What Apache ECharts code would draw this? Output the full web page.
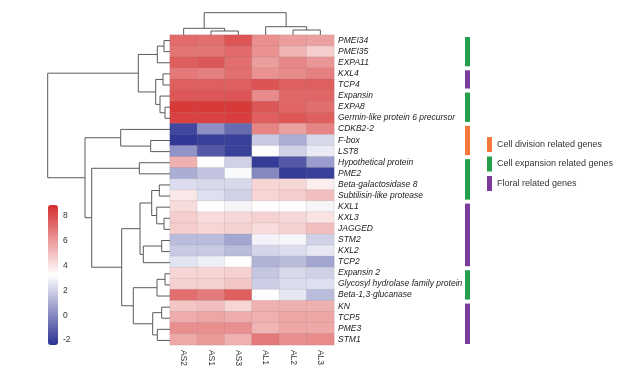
<!DOCTYPE html>
<html>
<head>
<meta charset="utf-8">
<script src="https://cdn.jsdelivr.net/npm/echarts@6/dist/echarts.min.js"></script>
<style>
  html, body { margin: 0; padding: 0; background: #fff; }
  #chart { width: 633px; height: 369px; }
</style>
</head>
<body>
<div id="chart"></div>
<script>
const samples = ['AS2', 'AS1', 'AS3', 'AL1', 'AL2', 'AL3'];

const genes = [
  'PMEI34', 'PMEI35', 'EXPA11', 'KXL4', 'TCP4', 'Expansin', 'EXPA8',
  'Germin-like protein 6 precursor', 'CDKB2-2', 'F-box', 'LST8',
  'Hypothetical protein', 'PME2', 'Beta-galactosidase 8', 'Subtilisin-like protease',
  'KXL1', 'KXL3', 'JAGGED', 'STM2', 'KXL2', 'TCP2', 'Expansin 2',
  'Glycosyl hydrolase family protein', 'Beta-1,3-glucanase', 'KN', 'TCP5', 'PME3', 'STM1'
];

// one row per gene, columns in the order of samples
const expression = [
  [7.3, 7.2, 7.9, 6.3, 5.9, 5.8],
  [7.0, 7.0, 7.3, 6.2, 5.3, 4.6],
  [7.6, 7.8, 7.2, 5.9, 6.5, 6.1],
  [6.9, 6.7, 7.2, 6.2, 6.4, 6.7],
  [7.6, 7.6, 7.6, 7.9, 7.6, 7.6],
  [7.8, 7.8, 7.9, 6.4, 7.4, 7.4],
  [8.6, 8.6, 8.6, 7.8, 7.4, 7.2],
  [8.4, 8.4, 8.5, 7.6, 7.8, 7.6],
  [-1.8, 0.2, -0.8, 6.6, 5.8, 6.6],
  [-2.2, -2.0, -2.0, 1.8, 1.0, 2.2],
  [0.3, -1.3, -2.0, 3.3, 2.0, 2.7],
  [5.4, 3.3, 2.0, -2.1, -1.3, 0.6],
  [1.0, 1.6, 3.1, 0.0, -2.1, -2.0],
  [2.3, 2.2, 2.2, 4.4, 4.3, 3.7],
  [3.9, 2.4, 2.0, 4.4, 4.6, 5.0],
  [4.2, 3.3, 3.0, 3.3, 3.2, 3.0],
  [4.6, 4.2, 4.3, 4.5, 4.3, 4.0],
  [4.6, 4.4, 4.5, 4.2, 4.5, 5.0],
  [1.4, 1.4, 0.8, 2.9, 3.0, 2.0],
  [1.8, 1.8, 1.4, 2.1, 2.3, 2.6],
  [2.5, 2.8, 3.3, 1.2, 1.4, 0.8],
  [4.4, 4.4, 4.5, 1.7, 2.2, 2.0],
  [4.5, 4.5, 4.8, 1.9, 2.3, 2.4],
  [7.2, 6.8, 7.6, 3.3, 2.6, 1.4],
  [4.8, 5.0, 4.4, 5.4, 5.4, 5.4],
  [5.5, 5.7, 5.5, 5.4, 5.7, 5.7],
  [6.3, 6.3, 6.3, 5.3, 5.6, 5.6],
  [5.6, 6.0, 5.4, 6.9, 6.3, 6.4]
];

// linkage: [childA, childB, height]; index >= n means merge (index - n)
const rowLinkage = [
  [0, 1, 6], [28, 2, 12.7], [3, 4, 7], [6, 7, 5], [5, 31, 10], [30, 32, 14.3],
  [29, 33, 31.7], [9, 10, 19.3], [8, 35, 49.3], [11, 12, 30.7], [13, 14, 10.7],
  [16, 17, 6], [15, 39, 13.3], [38, 40, 18.3], [18, 19, 8.3], [42, 20, 26.7],
  [41, 43, 30], [21, 22, 5], [45, 23, 13], [24, 25, 8.3], [26, 27, 12.7],
  [47, 48, 17.3], [46, 49, 36.7], [44, 50, 48.3], [37, 51, 78.3], [36, 52, 85],
  [34, 53, 122.3]
];
const colLinkage = [[1, 2, 4], [0, 6, 6.7], [4, 5, 5], [3, 8, 8.3], [7, 9, 22.3]];

const groupNames = ['Cell division related genes', 'Cell expansion related genes', 'Floral related genes'];
// [group, first row, last row]
const groupSpans = [
  [1, 0, 2], [2, 3, 4], [1, 5, 7], [0, 8, 10], [1, 11, 14], [2, 15, 20], [1, 21, 23], [2, 24, 27]
];
const colorbarTicks = [-2, 0, 2, 4, 6, 8];

const groupColors = ['#f4783a', '#22a04c', '#7b3c9c'];
const FONT = 'Liberation Sans, Arial, sans-serif';

function buildTree(linkage, n) {
  const pos = [], h = [];
  for (let i = 0; i < n; i++) { pos[i] = i; h[i] = 0; }
  return linkage.map(([a, b, height], k) => {
    pos[n + k] = (pos[a] + pos[b]) / 2;
    h[n + k] = height;
    return [pos[a], h[a], pos[b], h[b], height];
  });
}

const heatData = [];
expression.forEach((row, r) => row.forEach((v, c) => heatData.push([c, r, v])));

const treeStyle = { stroke: '#5a5a5a', lineWidth: 1, fill: null };

const chart = echarts.init(document.getElementById('chart'));

const groupSeries = groupNames.map((name, g) => ({
  name,
  type: 'custom',
  xAxisIndex: 4,
  yAxisIndex: 4,
  itemStyle: { color: groupColors[g] },
  data: groupSpans.filter(s => s[0] === g).map(s => [0, s[1], s[2]]),
  encode: { x: 0, y: [1, 2] },
  renderItem: (params, api) => {
    const a = api.coord([0, api.value(1) - 0.5 + 0.18]);
    const b = api.coord([1, api.value(2) + 0.5 - 0.18]);
    return { type: 'rect', shape: { x: a[0], y: a[1], width: b[0] - a[0], height: b[1] - a[1] },
      style: { fill: groupColors[g] } };
  }
}));

chart.setOption({
  animation: false,
  textStyle: { fontFamily: FONT },
  grid: [
    { left: 170, top: 35, width: 164, height: 311 },
    { left: 47.7, top: 35, width: 122.3, height: 311 },
    { left: 170, top: 12.7, width: 164, height: 22.3 },
    { left: 48, top: 205, width: 10, height: 140 },
    { left: 465, top: 35, width: 5, height: 311 }
  ],
  xAxis: [
    { type: 'category', gridIndex: 0, data: samples, position: 'bottom',
      axisLine: { show: false }, axisTick: { show: false },
      axisLabel: { interval: 0, rotate: -90, fontSize: 8.5, color: '#333', margin: 5, fontFamily: FONT } },
    { type: 'value', gridIndex: 1, inverse: true, min: 0, max: 122.3, show: false },
    { type: 'value', gridIndex: 2, min: -0.5, max: 5.5, show: false },
    { type: 'value', gridIndex: 3, min: 0, max: 1, show: false },
    { type: 'value', gridIndex: 4, min: 0, max: 1, show: false }
  ],
  yAxis: [
    { type: 'category', gridIndex: 0, data: genes, inverse: true, position: 'right',
      axisLine: { show: false }, axisTick: { show: false },
      axisLabel: { interval: 0, fontSize: 8.5, fontStyle: 'italic', color: '#222', margin: 4, fontFamily: FONT } },
    { type: 'value', gridIndex: 1, inverse: true, min: -0.5, max: 27.5, show: false },
    { type: 'value', gridIndex: 2, min: 0, max: 22.3, show: false },
    { type: 'value', gridIndex: 3, min: -2.4, max: 8.9, position: 'right',
      axisLine: { show: false }, axisTick: { show: false }, splitLine: { show: false },
      axisLabel: { customValues: colorbarTicks, fontSize: 8.5, color: '#333', margin: 5, fontFamily: FONT } },
    { type: 'value', gridIndex: 4, inverse: true, min: -0.5, max: 27.5, show: false }
  ],
  visualMap: {
    type: 'continuous', min: -2.4, max: 8.9, seriesIndex: 0, calculable: false,
    left: 48, top: 205, itemWidth: 10, itemHeight: 140, padding: 0,
    inRange: { color: ['#2a3192', '#ffffff', '#d62f2f'] }
  },
  legend: {
    data: groupNames, orient: 'vertical', left: 487, top: 137, padding: 0,
    icon: 'rect', itemWidth: 5, itemHeight: 15, itemGap: 4.5,
    textStyle: { fontSize: 9, color: '#333', fontFamily: FONT }, selectedMode: false
  },
  series: [
    {
      type: 'heatmap', xAxisIndex: 0, yAxisIndex: 0, data: heatData,
      itemStyle: { borderColor: 'rgba(120,120,120,0.25)', borderWidth: 0.5 }
    },
    {
      type: 'custom', xAxisIndex: 1, yAxisIndex: 1, silent: true,
      data: buildTree(rowLinkage, genes.length),
      encode: { x: [1, 3, 4], y: [0, 2] },
      renderItem: (params, api) => ({
        type: 'polyline',
        shape: { points: [
          api.coord([api.value(1), api.value(0)]),
          api.coord([api.value(4), api.value(0)]),
          api.coord([api.value(4), api.value(2)]),
          api.coord([api.value(3), api.value(2)])
        ] },
        style: treeStyle
      })
    },
    {
      type: 'custom', xAxisIndex: 2, yAxisIndex: 2, silent: true,
      data: buildTree(colLinkage, samples.length),
      encode: { x: [0, 2], y: [1, 3, 4] },
      renderItem: (params, api) => ({
        type: 'polyline',
        shape: { points: [
          api.coord([api.value(0), api.value(1)]),
          api.coord([api.value(0), api.value(4)]),
          api.coord([api.value(2), api.value(4)]),
          api.coord([api.value(2), api.value(3)])
        ] },
        style: treeStyle
      })
    },
    {
      type: 'scatter', xAxisIndex: 3, yAxisIndex: 3, data: [], silent: true
    },
    ...groupSeries
  ]
});
</script>
</body>
</html>
